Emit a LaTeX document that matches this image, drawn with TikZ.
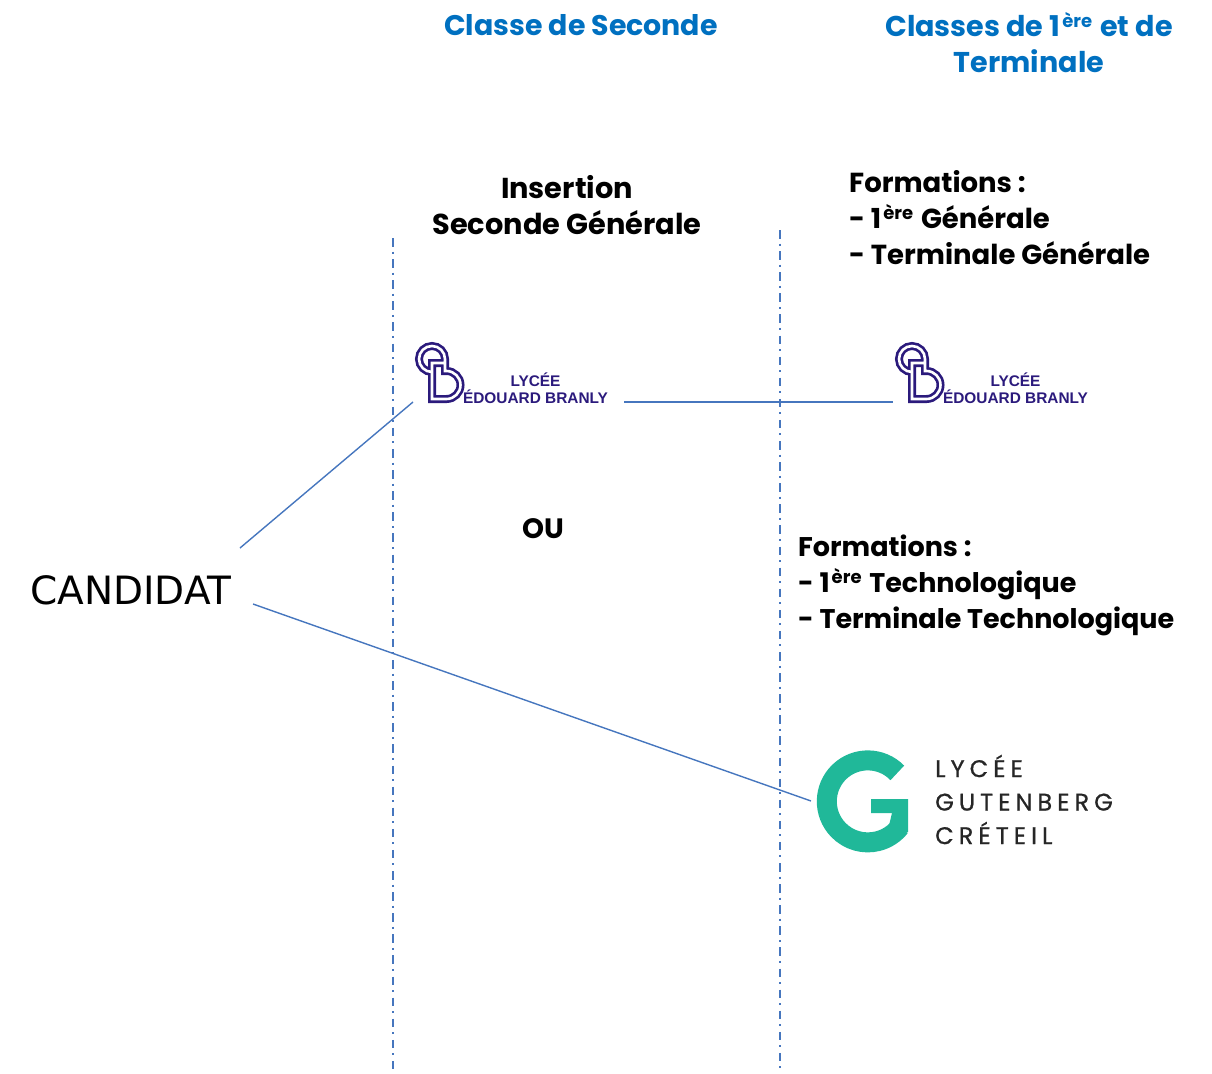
\documentclass[tikz,border=0pt]{standalone}
\usepackage{fontspec}
\setmainfont{Poppins}
\newfontfamily\candfont{DejaVu Sans}
\newfontfamily\branlyfont{Liberation Sans}
\newfontfamily\gutenfont[LetterSpace=21,FakeBold=0.8]{Poppins}
\definecolor{headblue}{HTML}{0070C0}
\definecolor{lineblue}{HTML}{4676BE}
\definecolor{branlyblue}{HTML}{2B1A7C}
\definecolor{gutengreen}{HTML}{20B899}
\newcommand{\ere}{\kern2pt\raisebox{9pt}{\fontsize{18}{18}\selectfont ère}\kern2pt}
\newcommand{\branlypath}{(17,32) arc[start angle=-270,end angle=0,radius=13] -- (30,31)
    -- (31.5,31) arc[start angle=-90,end angle=90,radius=14] -- (17,59) -- (17,23) -- (30,23)}
\tikzset{
    head/.style={text=headblue,align=center,inner sep=0pt},
    body/.style={inner sep=0pt},
    link/.style={lineblue,line width=1.4pt},
    column/.style={lineblue,line width=1.4pt,dash pattern=on 8.5pt off 5pt on 2pt off 5.6pt},
    branlylogo/.pic={
        \draw[branlyblue,line width=8pt] \branlypath;
        \draw[white,line width=2.6pt] \branlypath;
        \node[text=branlyblue,font=\branlyfont\bfseries\fontsize{15.4}{15.4}\selectfont,inner sep=0pt] (-lycee) at (120.5,40) {LYCÉE};
        \node[text=branlyblue,font=\branlyfont\bfseries\fontsize{15.4}{15.4}\selectfont,inner sep=0pt] (-nom) at (120.5,57) {ÉDOUARD BRANLY};
        \coordinate (-in) at (-2,62);
        \coordinate (-out) at (209,62);
    }
}
\begin{document}
\begin{tikzpicture}[x=1pt,y=-1pt]
    \useasboundingbox (0,0) rectangle (1212,1073);

    % columns
    \coordinate (colAtop) at (393,238);
    \coordinate (colAbot) at (393,1070);
    \coordinate (colBtop) at (780,230);
    \coordinate (colBbot) at (780,1070);
    \draw[column] (colAtop) -- (colAbot);
    \draw[column] (colBtop) -- (colBbot);

    % headings
    \draw (581,25) node[head,font=\fontsize{28.4}{36}\selectfont\bfseries](seconde){Classe de Seconde};
    \draw (1029,43) node[head,font=\fontsize{28.6}{36}\selectfont\bfseries](premiere){Classes de 1\ere{} et de\\Terminale};

    % formations
    \draw (567,205.5) node[body,align=center,font=\fontsize{28.8}{36}\selectfont\bfseries](insertion){Insertion\\Seconde Générale};
    \draw (849,217.5) node[body,anchor=west,align=left,font=\fontsize{27.5}{36}\selectfont\bfseries](formgen){Formations :\\- 1\ere{} Générale\\- Terminale Générale};
    \draw (798,585.5) node[body,anchor=west,align=left,font=\fontsize{27}{36}\selectfont\bfseries](formtech){Formations :\\- 1\ere{} Technologique\\- Terminale Technologique};
    \draw (543,529) node[body,font=\fontsize{28}{36}\selectfont\bfseries](ou){OU};
    \draw (131,590) node[body,font=\candfont\fontsize{39}{39}\selectfont](candidat){CANDIDAT};

    % logos
    \draw (415,340) pic(branlyA){branlylogo};
    \draw (895,340) pic(branlyB){branlylogo};
    \draw[gutengreen,line width=20pt] (897.3,772.9) arc[start angle=-44,end angle=-322,radius=41];
    \fill[gutengreen] (871,799) -- (908,799) -- (908,832) -- (886,838) -- (892,813) -- (871,813) -- cycle;
    \draw (935,799.5) node[anchor=west,align=left,inner sep=0pt,text=black!85,font=\gutenfont\fontsize{24}{33.5}\selectfont](gutenberg){LYCÉE\\GUTENBERG\\CRÉTEIL};

    % connectors
    \coordinate (candTop) at (240,548);
    \coordinate (candBot) at (253,604);
    \coordinate (gutenIn) at (811,801);
    \draw[link] (candTop) to (branlyA-in);
    \draw[link] (branlyA-out) to (branlyB-in);
    \draw[link] (candBot) to (gutenIn);
\end{tikzpicture}
\end{document}
